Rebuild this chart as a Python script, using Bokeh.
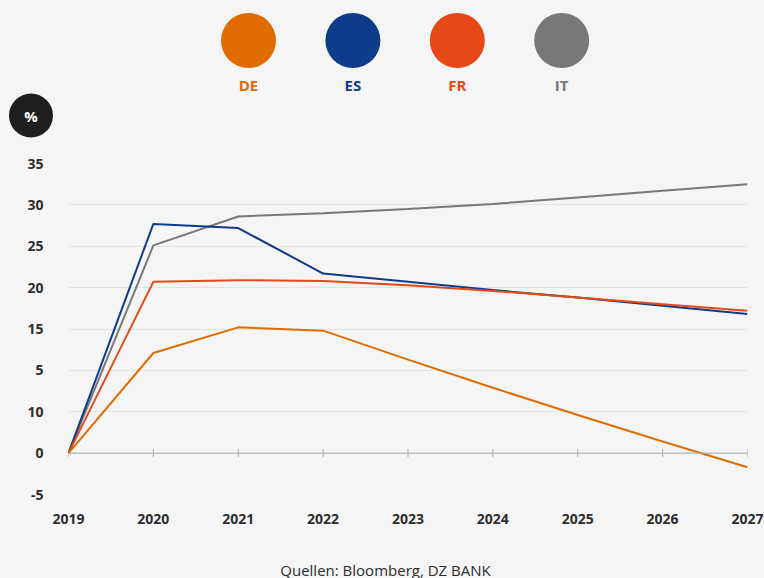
import numpy as np
from bokeh.plotting import figure
from bokeh.layouts import column
from bokeh.models import Range1d, FixedTicker, Span, ColumnDataSource
from bokeh.core.properties import value
from bokeh.embed import file_html
from bokeh.resources import INLINE

# ---------------- data ----------------
years = [2019, 2020, 2021, 2022, 2023, 2024, 2025, 2026, 2027]
series_names = ["DE", "ES", "FR", "IT"]
series_colors = ["#E06C00", "#0F3C8A", "#E64816", "#787878"]
de = [0, 12.1, 15.2, 14.8, 11.3, 7.9, 4.6, 1.4, -1.7]
es = [0, 27.7, 27.2, 21.7, 20.7, 19.7, 18.8, 17.8, 16.8]
fr = [0, 20.7, 20.9, 20.8, 20.3, 19.6, 18.8, 18.0, 17.2]
it = [0, 25.1, 28.6, 29.0, 29.5, 30.1, 30.9, 31.7, 32.5]
y_ticks = [-5, 0, 5, 10, 15, 20, 25, 30, 35]
y_tick_labels = ["-5", "0", "10", "5", "15", "20", "25", "30", "35"]
unit_label = "%"
source_text = "Quellen: Bloomberg, DZ BANK"

BG = "#F5F5F5"
FONT = "Open Sans"
W = 764
TOP_H = 140
BOT_H = 40
MAIN_H = 578 - TOP_H - BOT_H


def blank(h):
    f = figure(width=W, height=h, output_backend="svg", toolbar_location=None,
               x_range=Range1d(0, W), y_range=Range1d(h, 0),
               min_border=0, background_fill_color=BG, border_fill_color=BG)
    f.axis.visible = False
    f.grid.visible = False
    f.outline_line_color = None
    f.frame_align = False
    f.styles = {"background-color": BG}
    return f


# ---------------- top: legend + unit badge ----------------
top = blank(TOP_H)
leg_x = [248 + 104.4 * i for i in range(len(series_names))]
leg_src = ColumnDataSource(dict(x=leg_x, y=[40] * len(leg_x), ty=[84] * len(leg_x),
                                name=series_names, color=series_colors))
top.scatter("x", "y", source=leg_src, size=55, fill_color="color", line_color=None)
top.text("x", "ty", text="name", source=leg_src, text_color="color",
         text_font=value(FONT), text_font_style="bold", text_font_size="15px",
         text_align="center", text_baseline="middle")

top.scatter([30.5], [115], size=44, fill_color="#1E1E1E", line_color=None)
top.text([30.5], [115], text=[unit_label], text_color="white",
         text_font=value(FONT), text_font_style="bold", text_font_size="15px",
         text_align="center", text_baseline="middle")

# ---------------- main chart ----------------
p = figure(width=W, height=MAIN_H, output_backend="svg", toolbar_location=None,
           x_range=Range1d(years[0], years[-1]), y_range=Range1d(y_ticks[0], y_ticks[-1]),
           min_border_left=68, min_border_right=17, min_border_top=23, min_border_bottom=44,
           background_fill_color=BG, border_fill_color=BG)
p.outline_line_color = None
p.frame_align = False
p.styles = {"background-color": BG}

p.xgrid.visible = False
p.ygrid.grid_line_color = "#E3E3E3"
p.ygrid.grid_line_width = 1

p.yaxis.ticker = FixedTicker(ticks=y_ticks)
p.yaxis.major_label_overrides = {t: l for t, l in zip(y_ticks, y_tick_labels)}
p.yaxis.axis_line_color = None
p.yaxis.major_tick_line_color = None
p.yaxis.minor_tick_line_color = None
p.yaxis.major_tick_out = 0
p.yaxis.major_tick_in = 0
p.yaxis.major_label_standoff = 25

p.xaxis.ticker = FixedTicker(ticks=years)
p.xaxis.axis_line_color = None
p.xaxis.major_tick_line_color = None
p.xaxis.minor_tick_line_color = None
p.xaxis.major_tick_out = 0
p.xaxis.major_tick_in = 0
p.xaxis.major_label_standoff = 19

for ax in (p.xaxis, p.yaxis):
    ax.major_label_text_font = FONT
    ax.major_label_text_font_style = "bold"
    ax.major_label_text_font_size = "14px"
    ax.major_label_text_color = "#2E2E2E"

# zero baseline with year ticks
p.add_layout(Span(location=0, dimension="width", line_color="#A8A8A8", line_width=1))
p.scatter(years, [0] * len(years), marker="dash", angle=np.pi / 2, size=8,
          line_color="#A8A8A8", line_width=1)

for vals, col in zip([it, es, fr, de],
                     [series_colors[3], series_colors[1], series_colors[2], series_colors[0]]):
    p.line(years, vals, line_color=col, line_width=2)

# ---------------- bottom: source ----------------
bot = blank(BOT_H)
bot.text([385], [31], text=[source_text], text_color="#2E2E2E",
         text_font=value(FONT), text_font_size="15px",
         text_align="center", text_baseline="middle")

layout = column(top, p, bot, spacing=0)
layout.styles = {"background-color": BG}

html = file_html(layout, INLINE)
html = html.replace("</head>", "<style>html,body{margin:0;padding:0;background:%s;}</style></head>" % BG, 1)
open("out.html", "w").write(html)
